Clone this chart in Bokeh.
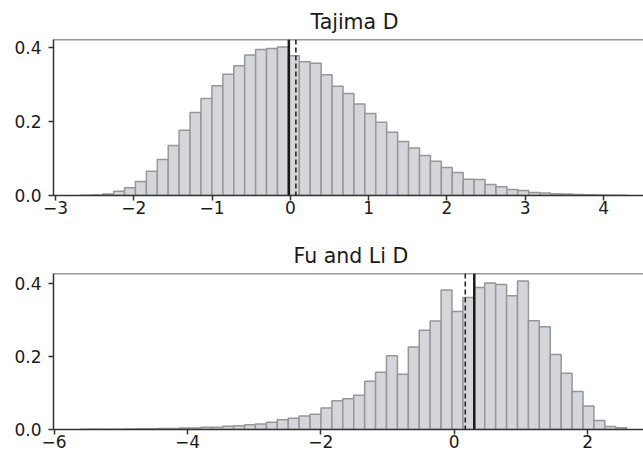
import numpy as np
from bokeh.plotting import figure
from bokeh.layouts import column
from bokeh.models import Span, FixedTicker, Title
from bokeh.embed import file_html
from bokeh.resources import INLINE

# ---- data: Tajima D (density per bin, 50 bins) ----
tajima_lo, tajima_hi = -2.677, 4.30
tajima_density = [0.0005, 0.0015, 0.004, 0.0117, 0.0207, 0.0377, 0.0656, 0.097, 0.135, 0.176,
                  0.224, 0.262, 0.296, 0.327, 0.350, 0.379, 0.394, 0.397, 0.401, 0.377,
                  0.361, 0.357, 0.326, 0.295, 0.275, 0.247, 0.221, 0.198, 0.171, 0.146,
                  0.128, 0.108, 0.0925, 0.0755, 0.062, 0.044, 0.043, 0.030, 0.0234, 0.0162,
                  0.0135, 0.008, 0.007, 0.005, 0.004, 0.003, 0.002, 0.0012, 0.0008, 0.0005]
tajima_solid = -0.02
tajima_dashed = 0.07

# ---- data: Fu and Li D ----
fuli_lo, fuli_hi = -5.600, 2.585
fuli_density = [0.0005, 0.0005, 0.001, 0.001, 0.0015, 0.002, 0.002, 0.003, 0.003, 0.004,
                0.004, 0.006, 0.006, 0.009, 0.010, 0.013, 0.015, 0.020, 0.027, 0.031,
                0.037, 0.042, 0.059, 0.079, 0.084, 0.094, 0.132, 0.157, 0.202, 0.151,
                0.226, 0.272, 0.297, 0.382, 0.323, 0.361, 0.389, 0.401, 0.397, 0.366,
                0.4066, 0.298, 0.281, 0.205, 0.154, 0.104, 0.064, 0.0246, 0.0085, 0.0045]
fuli_solid = 0.30
fuli_dashed = 0.165

tajima_xticks = [-3, -2, -1, 0, 1, 2, 3, 4]
fuli_xticks = [-6, -4, -2, 0, 2]
yticks = [0.0, 0.2, 0.4]

FILL = "#d5d6d9"
EDGE = "#96979a"
SPINE = "#333333"
FONT = "DejaVu Sans"


def make_panel(title, lo, hi, dens, xr, yr, xticks, solid, dashed, height, top, bottom, title_offset):
    p = figure(width=643, height=height, x_range=xr, y_range=yr,
               output_backend="svg", toolbar_location=None,
               min_border_left=53, min_border_right=0,
               min_border_top=top, min_border_bottom=bottom)
    p.title = Title(text=title, align="left", offset=title_offset,
                    text_font=FONT, text_font_size="20.5px", text_font_style="normal",
                    text_color="#1a1a1a", standoff=12)
    edges = np.linspace(lo, hi, len(dens) + 1)
    p.quad(left=edges[:-1], right=edges[1:], bottom=0, top=dens,
           fill_color=FILL, line_color=EDGE, line_width=1.5)
    p.add_layout(Span(location=solid, dimension="height", line_color="#1a1a1a", line_width=2.5))
    p.add_layout(Span(location=dashed, dimension="height", line_color="#1a1a1a",
                      line_width=1.5, line_dash="5 3"))
    p.add_layout(Span(location=yr[1], dimension="width", line_color=SPINE, line_width=1.5))
    p.outline_line_color = None
    p.grid.visible = False
    for ax in (p.xaxis[0], p.yaxis[0]):
        ax.axis_line_color = SPINE
        ax.axis_line_width = 1.5
        ax.major_tick_line_color = SPINE
        ax.major_tick_line_width = 1.5
        ax.major_tick_out = 5
        ax.major_tick_in = 0
        ax.minor_tick_line_color = None
        ax.major_label_text_font = FONT
        ax.major_label_text_font_size = "17px"
        ax.major_label_text_color = "#1a1a1a"
    p.xaxis[0].ticker = FixedTicker(ticks=xticks)
    p.xaxis[0].major_label_overrides = {t: (f"\u2212{abs(t)}" if t < 0 else str(t)) for t in xticks}
    p.xaxis[0].major_label_standoff = 0
    p.yaxis[0].ticker = FixedTicker(ticks=yticks)
    p.yaxis[0].major_label_overrides = {t: f"{t:.1f}" for t in yticks}
    p.yaxis[0].major_label_standoff = 7
    return p


p1 = make_panel("Tajima D", tajima_lo, tajima_hi, tajima_density, (-3.026, 4.51), (0, 0.421),
                tajima_xticks, tajima_solid, tajima_dashed, height=220, top=39, bottom=25,
                title_offset=257)
p2 = make_panel("Fu and Li D", fuli_lo, fuli_hi, fuli_density, (-6.009, 2.837), (0, 0.427),
                fuli_xticks, fuli_solid, fuli_dashed, height=236, top=53, bottom=27,
                title_offset=240)

layout = column(p1, p2, spacing=0)
open("out.html", "w").write(file_html(layout, INLINE))
